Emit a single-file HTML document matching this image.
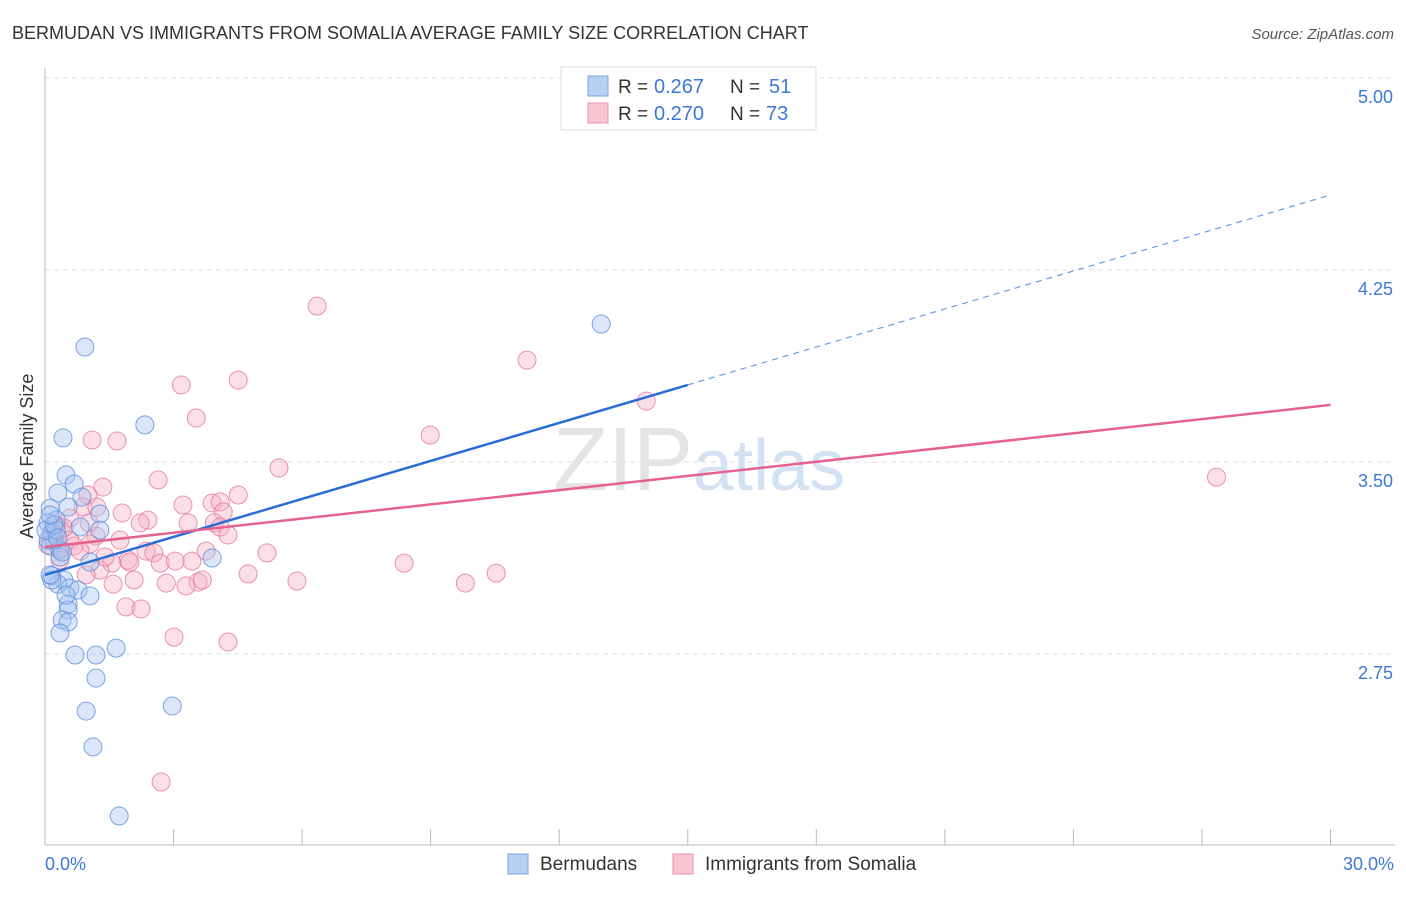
<!DOCTYPE html>
<html><head><meta charset="utf-8"><style>
body{margin:0;background:#fff;font-family:"Liberation Sans",sans-serif}
svg text{font-family:"Liberation Sans",sans-serif}
</style></head><body>
<svg width="1406" height="892">
<text x="12" y="39" font-size="18" fill="#333">BERMUDAN VS IMMIGRANTS FROM SOMALIA AVERAGE FAMILY SIZE CORRELATION CHART</text>
<text x="1394" y="39" font-size="15" fill="#555" text-anchor="end" font-style="italic">Source: ZipAtlas.com</text>
<g id="grid"></g>
<text x="553" y="490" font-size="90" fill="#e4e4e4" font-family="Liberation Serif">ZIP<tspan fill="#d3e2f3" font-family="Liberation Sans" font-size="72">atlas</tspan></text>
<line x1="45" y1="68" x2="45" y2="845" stroke="#bbb"/>
<line x1="45" y1="845" x2="1395" y2="845" stroke="#bbb"/>
<g id="ticks"></g>
<text x="33" y="456" font-size="18" fill="#333" text-anchor="middle" transform="rotate(-90 33 456)">Average Family Size</text>
<text x="45" y="870" font-size="18" fill="#3b78d8">0.0%</text>
<text x="1394" y="870" font-size="18" fill="#3b78d8" text-anchor="end">30.0%</text>
<g id="pts"></g>
<g id="lines"></g>
<g>
<rect x="561" y="67" width="255" height="63" fill="#fff" stroke="#ddd"/>
<rect x="588" y="76" width="20" height="20" fill="#b7d1f3" stroke="#7aa5e3"/>
<rect x="588" y="103" width="20" height="20" fill="#f8c5d3" stroke="#ec92ae"/>
<text x="618" y="93" font-size="19" fill="#333">R =</text>
<text x="654" y="93" font-size="20" fill="#3b78d8">0.267</text>
<text x="730" y="93" font-size="19" fill="#333">N =</text>
<text x="769" y="93" font-size="20" fill="#3b78d8">51</text>
<text x="618" y="120" font-size="19" fill="#333">R =</text>
<text x="654" y="120" font-size="20" fill="#3b78d8">0.270</text>
<text x="730" y="120" font-size="19" fill="#333">N =</text>
<text x="766" y="120" font-size="20" fill="#3b78d8">73</text>
</g>
<g>
<rect x="508" y="854" width="20" height="20" fill="#b7d1f3" stroke="#7aa5e3"/>
<text x="540" y="870" font-size="19" fill="#333">Bermudans</text>
<rect x="673" y="854" width="20" height="20" fill="#f8c5d3" stroke="#ec92ae"/>
<text x="705" y="870" font-size="19" fill="#333">Immigrants from Somalia</text>
</g>
</svg>
<script>
const yTicks=[5.00,4.25,3.50,2.75];
const yTickLabels=["5.00","4.25","3.50","2.75"];
const xTicks=[0,3,6,9,12,15,18,21,24,27,30];
const bluePx=[[85,347],[63,438],[145,425],[66,475],[74,484],[58,493],[82,497],[50,508],[68,507],[100,514],[56,520],[48,523],[80,527],[100,530],[52,533],[54,540],[50,546],[60,550],[60,557],[90,562],[212,558],[52,576],[64,580],[58,584],[70,588],[78,590],[90,596],[68,604],[68,610],[62,620],[68,622],[60,633],[75,655],[96,655],[116,648],[96,678],[86,711],[172,706],[93,747],[119,816],[601,324],[48,540],[56,530],[46,530],[52,580],[50,575],[66,595],[62,552],[54,525],[50,515],[58,538]];
const pinkPx=[[317,306],[527,360],[181,385],[238,380],[646,401],[196,418],[430,435],[92,440],[117,441],[279,468],[158,480],[1216,477],[103,487],[88,495],[238,495],[183,505],[212,503],[220,502],[83,507],[97,507],[122,513],[223,512],[148,520],[140,523],[188,523],[214,523],[70,518],[220,527],[61,530],[228,535],[96,536],[50,540],[70,540],[90,544],[60,548],[146,551],[154,553],[206,551],[267,553],[128,560],[160,563],[175,561],[192,561],[404,563],[112,563],[100,570],[130,562],[248,574],[496,573],[86,575],[134,580],[166,583],[198,582],[202,580],[186,586],[297,581],[465,583],[113,584],[126,607],[141,609],[174,637],[228,642],[161,782],[56,525],[52,533],[64,528],[74,546],[60,560],[48,545],[120,540],[80,551],[105,557],[89,523]];
const blueX=bluePx.map(p=>+((p[0]-45)/42.83).toFixed(2));
const blueY=bluePx.map(p=>+(5-(p[1]-78)/256).toFixed(3));
const pinkX=pinkPx.map(p=>+((p[0]-45)/42.83).toFixed(2));
const pinkY=pinkPx.map(p=>+(5-(p[1]-78)/256).toFixed(3));
const blueLine=[3.059,4.543];
const pinkLine=[3.168,3.723];
const blueSolidEnd=15;

const X=v=>45+v*42.85, Y=v=>78+(5-v)*256;
const NS="http://www.w3.org/2000/svg";
function mk(t,a,p){const e=document.createElementNS(NS,t);for(const k in a)e.setAttribute(k,a[k]);p.appendChild(e);return e;}
const grid=document.getElementById('grid'),ticks=document.getElementById('ticks');
yTicks.forEach((v,i)=>{
 const l=mk('line',{x1:45,x2:1395,y1:Y(v),y2:Y(v),stroke:'#ddd','stroke-dasharray':'5,4'},grid);
 
 
 const t=mk('text',{x:1393,y:Y(v)+25,'font-size':18,fill:'#3b78d8','text-anchor':'end'},grid);
 t.textContent=yTickLabels[i];
 
 
});
xTicks.forEach(v=>{
 const l=mk('line',{x1:X(v),x2:X(v),y1:829,y2:845,stroke:'#bbb'},ticks);
 
 
});
const pts=document.getElementById('pts');
function draw(xs,ys,fill,stroke,name){xs.forEach((x,i)=>{
 const c=mk('circle',{cx:X(x),cy:Y(ys[i]),r:9,fill:fill,'fill-opacity':0.4,stroke:stroke,'stroke-width':1,'stroke-opacity':0.8},pts);
 
 
});}
draw(pinkX,pinkY,'#f6aec2','#e6799b','somalia-point');
draw(blueX,blueY,'#a4c4f0','#5b8fdc','bermudan-point');
const lines=document.getElementById('lines');
const bAt=x=>blueLine[0]+(blueLine[1]-blueLine[0])*x/30;
let e=mk('line',{x1:X(0),y1:Y(bAt(0)),x2:X(blueSolidEnd),y2:Y(bAt(blueSolidEnd)),stroke:'#2a6dd6','stroke-width':2.5},lines);


e=mk('line',{x1:X(blueSolidEnd),y1:Y(bAt(blueSolidEnd)),x2:X(30),y2:Y(bAt(30)),stroke:'#6b9be0','stroke-width':1.2,'stroke-dasharray':'6,5'},lines);


e=mk('line',{x1:X(0),y1:Y(pinkLine[0]),x2:X(30),y2:Y(pinkLine[1]),stroke:'#e5628e','stroke-width':2.5},lines);


</script>
</body></html>
